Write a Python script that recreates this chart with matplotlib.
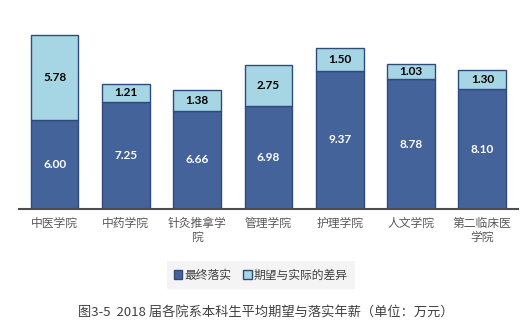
import numpy as np
import matplotlib.pyplot as plt

plt.rcParams['font.family'] = ['Noto Sans CJK SC', 'DejaVu Sans']

# data
colleges = ['中医学院', '中药学院', '针灸推拿学\n院', '管理学院', '护理学院', '人文学院', '第二临床医\n学院']
actual = [6.00, 7.25, 6.66, 6.98, 9.37, 8.78, 8.10]
gap = [5.78, 1.21, 1.38, 2.75, 1.50, 1.03, 1.30]
series_names = ['最终落实', '期望与实际的差异']
caption = '图3-5  2018 届各院系本科生平均期望与落实年薪（单位：万元）'

dark = '#44639a'
light = '#a6d5e3'
edge = '#2f4b7c'

fig = plt.figure(figsize=(5.26, 3.29), dpi=100)
ax = fig.add_axes([0.036, 0.3647, 0.9487, 0.6286])

x = np.arange(len(colleges))
w = 0.67
b1 = ax.bar(x, actual, w, color=dark, edgecolor=edge, linewidth=1, label=series_names[0])
b2 = ax.bar(x, gap, w, bottom=actual, color=light, edgecolor=edge, linewidth=1, label=series_names[1])

for xi, a, g in zip(x, actual, gap):
    ax.text(xi, a / 2, '%.2f' % a, ha='center', va='center', color='white',
            fontsize=8.5, fontweight='bold', family='Lato')
    ax.text(xi, a + g / 2, '%.2f' % g, ha='center', va='center', color='black',
            fontsize=8.5, fontweight='bold', family='Lato')

ax.set_xlim(-0.5, len(colleges) - 0.5)
ax.set_ylim(0, 14)
ax.set_xticks(x)
ax.set_xticklabels(colleges, fontsize=8.5, color='#595959', linespacing=1.1)
ax.tick_params(axis='x', length=0, pad=6)
ax.set_yticks([])
for s in ['top', 'left', 'right']:
    ax.spines[s].set_visible(False)
ax.spines['bottom'].set_color('#4d4d4d')
ax.spines['bottom'].set_linewidth(1.5)

leg = fig.legend(handles=[b1, b2], loc='center', bbox_to_anchor=(0.496, 0.164), ncol=2,
                 fontsize=8.5, frameon=True, handlelength=0.7, handleheight=0.7,
                 handletextpad=0.2, columnspacing=1.0, borderpad=0.4)
leg.get_frame().set_facecolor('#f2f2f2')
leg.get_frame().set_edgecolor('none')
leg.get_frame().set_boxstyle('square', pad=0.2)
for t in leg.get_texts():
    t.set_color('#404040')

fig.text(0.506, 0.049, caption, ha='center', va='center', fontsize=9.5, color='#404040')

fig.savefig('out.png', dpi=100)
